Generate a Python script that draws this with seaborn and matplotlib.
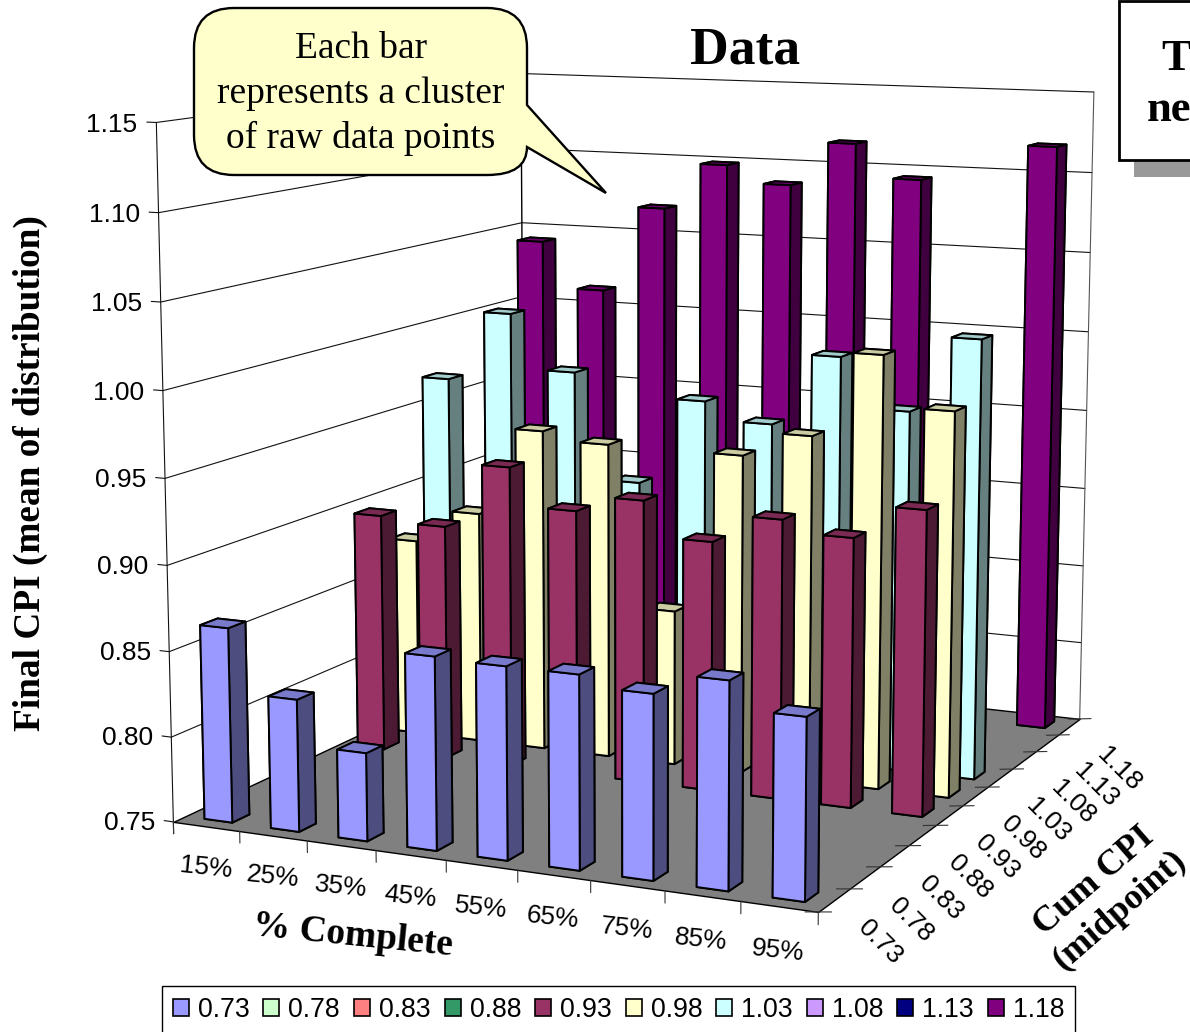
import numpy as np
import pandas as pd
import matplotlib
matplotlib.use('Agg')
import matplotlib.pyplot as plt
import seaborn as sns
from matplotlib.patches import Patch, PathPatch, Rectangle
from matplotlib.path import Path
from mpl_toolkits.mplot3d import proj3d
from mpl_toolkits.mplot3d.art3d import Poly3DCollection

# data
pct_complete = ['15%', '25%', '35%', '45%', '55%', '65%', '75%', '85%', '95%']
cum_cpi = ['0.73', '0.78', '0.83', '0.88', '0.93', '0.98', '1.03', '1.08', '1.13', '1.18']
final_073 = [0.864, 0.827, 0.801, 0.861, 0.860, 0.860, 0.854, 0.866, 0.851]
final_093 = [0.897, 0.894, 0.934, 0.911, 0.921, 0.900, 0.917, 0.910, 0.930]
final_098 = [0.873, 0.894, 0.949, 0.944, 0.845, 0.944, 0.959, 1.010, 0.980]
final_103 = [0.969, 1.013, 0.979, 0.913, 0.967, 0.956, 1.000, 0.970, 1.016]
final_118 = [1.042, 1.012, 1.068, 1.098, 1.087, 1.115, 1.094, np.nan, 1.118]
z_ticks = [0.75, 0.80, 0.85, 0.90, 0.95, 1.00, 1.05, 1.10, 1.15]
colors = ['#9999FF', '#CCFFCC', '#FF8080', '#339966', '#993366',
          '#FFFFCC', '#CCFFFF', '#CC99FF', '#000080', '#800080']

W, H = 1190, 1032
sns.set_style('white')
plt.rcParams['font.family'] = ['Liberation Sans', 'DejaVu Sans']
plt.rcParams['text.color'] = 'black'
palette = sns.color_palette(colors)

# long table, one row per bar
rows = []
for name, vals in [('0.73', final_073), ('0.93', final_093), ('0.98', final_098),
                   ('1.03', final_103), ('1.18', final_118)]:
    for pct, v in zip(pct_complete, vals):
        rows.append({'cum': name, 'pct': pct, 'final': v})
df = pd.DataFrame(rows).dropna()
df['c'] = df['pct'].map(pct_complete.index)
df['r'] = df['cum'].map(cum_cpi.index)

def fx(x):
    return x / W

def fy(y):
    return 1 - y / H

fig = plt.figure(figsize=(W / 100, H / 100), dpi=100)

# camera settings fitted to the corners of the plot box
scale, cx, cy = 3445.96, 651.82, 442.51
side = scale * 0.185
ax = fig.add_axes([fx(cx - scale * 0.095), fy(cy + scale * 0.095), side / W, side / H],
                  projection='3d', computed_zorder=False)
ax.set_xlim(0, 9)
ax.set_ylim(0, 10)
ax.set_zlim(0.75, 1.15)
ax.set_proj_type('persp')
ax.view_init(elev=9.9574, azim=-65.1575, roll=-0.0291)
ax.set_box_aspect((0.9904, 1.1033, 0.9951), zoom=1.8337)
ax.set_axis_off()

z0, z1 = 0.75, 1.15
floor = [[(0, 0, z0), (9, 0, z0), (9, 10, z0), (0, 10, z0)]]
col = Poly3DCollection(floor, facecolor='#808080', edgecolor='black', linewidth=1, zorder=1)
col.set_clip_on(False)
ax.add_collection3d(col)

def line3(xs, ys, zs, color='#111111', lw=0.8, z=2):
    ax.plot(xs, ys, zs, color=color, lw=lw, zorder=z, clip_on=False)

# Text3D ignores rotation, so go through the projection and use text2D
def label3(x, y, z, s, **kw):
    px, py, _ = proj3d.proj_transform(x, y, z, ax.get_proj())
    ax.text2D(px, py, s, transform=ax.transData, fontsize=19, **kw)

# walls and gridlines
for t in z_ticks[1:]:
    line3([0, 0, 9], [0, 10, 10], [t, t, t])
for t in z_ticks:
    line3([0, -0.14], [0, 0], [t, t])
    label3(-0.28, 0, t - 0.002, '%.2f' % t, ha='right', va='center')
line3([0, 0], [0, 0], [z0 - 0.007, z1])
line3([0, 0], [10, 10], [z0, z1], color='black', lw=1)
line3([9, 9], [10, 10], [z0, z1], color='#555555')

# tick marks under the floor
for c in range(len(pct_complete) + 1):
    line3([c, c], [0, 0], [z0, z0 - 0.007], color='#333333')
for r in range(len(cum_cpi) + 1):
    line3([8.83, 9.17], [r, r], [z0 - 0.001, z0 + 0.001], color='#333333')

# bars, back row first so nearer ones paint over
df = df.sort_values(['r', 'c'], ascending=[False, True])
width = 0.42
for i, row in enumerate(df.itertuples()):
    base = np.array(palette[row.r])
    faces = [base, base * 0.8, base, base, base, base * 0.5]
    bar = ax.bar3d(row.c + 0.5 - width / 2, row.r + 0.5 - width / 2, z0,
                   width, width, row.final - z0, color=faces, shade=False,
                   edgecolor='black', linewidth=1.4, zorder=10 + i)
    bar.set_clip_on(False)

# tick labels
for c, label in enumerate(pct_complete):
    label3(c + 0.48, 0, 0.7257, label, ha='center', va='center', rotation=-6,
           rotation_mode='anchor')
for r, label in enumerate(cum_cpi):
    label3(9.6 + 0.0172 * r, r + 0.5, 0.7305 - 0.00045 * r, label, ha='center', va='center',
           rotation=-45, rotation_mode='anchor')

serif = ['Liberation Serif', 'DejaVu Serif']
fig.text(fx(745), fy(51), 'Data', family=serif, fontweight='bold', fontsize=38.5,
         ha='center', va='center')
fig.text(fx(30), fy(473), 'Final CPI (mean of distribution)', family=serif, fontweight='bold',
         fontsize=26.8, rotation=90, ha='center', va='center')
fig.text(fx(353), fy(936), '% Complete', family=serif, fontweight='bold', fontsize=27,
         rotation=-5.8, rotation_mode='anchor', ha='center', va='center')
fig.text(fx(1107), fy(896), 'Cum CPI\n(midpoint)', family=serif, fontweight='bold', fontsize=26,
         rotation=41, rotation_mode='anchor', ha='center', va='center', linespacing=1.25)

# callout
r = 40
pts = [(194 + r, 8), (527 - r, 8), (527, 8), (527, 8 + r), (527, 105), (606, 193), (527, 147),
       (527, 175), (527 - r, 175), (194 + r, 175), (194, 175), (194, 175 - r), (194, 8 + r),
       (194, 8), (194 + r, 8), (194 + r, 8)]
codes = [Path.MOVETO, Path.LINETO, Path.CURVE3, Path.CURVE3, Path.LINETO, Path.LINETO, Path.LINETO,
         Path.CURVE3, Path.CURVE3, Path.LINETO, Path.CURVE3, Path.CURVE3, Path.LINETO,
         Path.CURVE3, Path.CURVE3, Path.CLOSEPOLY]
callout = PathPatch(Path([(fx(x), fy(y)) for x, y in pts], codes), transform=fig.transFigure,
                    facecolor='#FFFFCC', edgecolor='black', linewidth=1.7, zorder=5)
fig.add_artist(callout)
for y, line in zip([58, 103, 148], ['Each bar', 'represents a cluster', 'of raw data points']):
    fig.text(fx(361), fy(y), line, family=serif, fontsize=27, ha='center', va='baseline', zorder=6)

# box cut off by the right edge
fig.add_artist(Rectangle((fx(1134), fy(177)), 70 / W, 17 / H, transform=fig.transFigure,
                         facecolor='#999999', edgecolor='none', zorder=4))
fig.add_artist(Rectangle((fx(1119), fy(160)), 90 / W, 159 / H, transform=fig.transFigure,
                         facecolor='white', edgecolor='black', linewidth=2, zorder=5))
fig.text(fx(1161), fy(70), 'T', family=serif, fontweight='bold', fontsize=32, ha='left',
         va='baseline', zorder=6)
fig.text(fx(1147), fy(121), 'ne', family=serif, fontweight='bold', fontsize=32, ha='left',
         va='baseline', zorder=6)

# legend, its lower edge falls outside the picture
handles = [Patch(facecolor=palette[i], edgecolor='black', linewidth=1.2, label=cum_cpi[i])
           for i in range(len(cum_cpi))]
leg = fig.legend(handles=handles, ncol=10, loc='center', bbox_to_anchor=(fx(618.5), fy(1010)),
                 fontsize=19.2, frameon=True, fancybox=False, edgecolor='black', framealpha=1,
                 handlelength=0.6, handleheight=0.6, handletextpad=0.34, columnspacing=0.52,
                 borderpad=0.4, borderaxespad=0)
leg.get_frame().set_linewidth(1)

fig.savefig('out.png', dpi=100)
